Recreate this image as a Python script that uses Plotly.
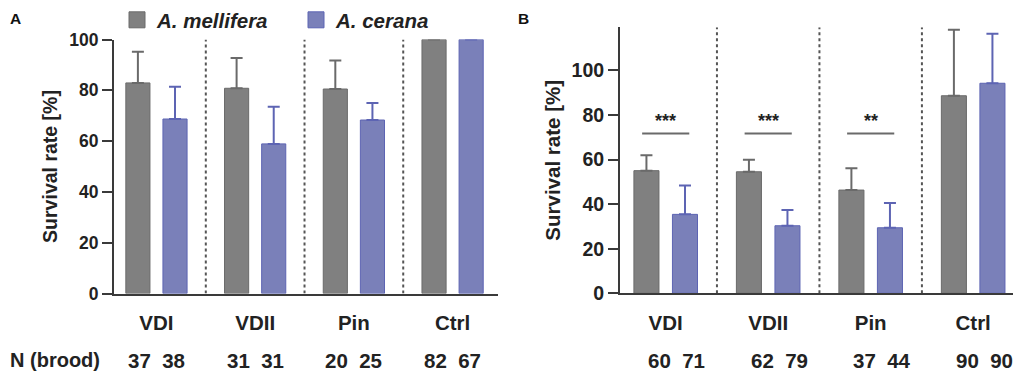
import plotly.graph_objects as go

# ---------------- data ----------------
categories = ["VDI", "VDII", "Pin", "Ctrl"]
species = ["A. mellifera", "A. cerana"]

# Panel A
a_mellifera = [82.9, 80.8, 80.5, 100]
a_mellifera_err = [12.3, 11.9, 11.2, 0]
a_cerana = [68.7, 58.9, 68.3, 100]
a_cerana_err = [12.7, 14.6, 6.7, 0]
a_n_mellifera = [37, 31, 20, 82]
a_n_cerana = [38, 31, 25, 67]

# Panel B
b_mellifera = [55.0, 54.5, 46.3, 88.6]
b_mellifera_err = [6.9, 5.4, 9.8, 29.6]
b_cerana = [35.4, 30.3, 29.4, 94.2]
b_cerana_err = [12.9, 7.1, 11.1, 22.2]
b_n_mellifera = [60, 62, 37, 90]
b_n_cerana = [71, 79, 44, 90]

sig_groups = ["VDI", "VDII", "Pin"]
sig_labels = ["***", "***", "**"]
sig_level = 71.7

# ---------------- style ----------------
FONT = "Liberation Sans, Arial, Helvetica, sans-serif"
GRAY_FILL = "#808080"
GRAY_EDGE = "#6a6a6a"
BLUE_FILL = "#7a80b9"
BLUE_EDGE = "#5d64b3"
AXIS_COL = "#3a3a3a"
TXT = "#222222"
W, H = 1021, 373
OFF = 8  # page body margin offset


def px_x(p):
    return (p - OFF) / W


def px_y(p):
    return 1 - (p - OFF) / H


fig = go.Figure()

panels = [
    dict(xa="x", ya="y", mel=a_mellifera, mel_e=a_mellifera_err,
         cer=a_cerana, cer_e=a_cerana_err),
    dict(xa="x2", ya="y2", mel=b_mellifera, mel_e=b_mellifera_err,
         cer=b_cerana, cer_e=b_cerana_err),
]

for p in panels:
    for name, vals, errs, fill, edge in [
        (species[0], p["mel"], p["mel_e"], GRAY_FILL, GRAY_EDGE),
        (species[1], p["cer"], p["cer_e"], BLUE_FILL, BLUE_EDGE),
    ]:
        fig.add_trace(go.Bar(
            x=categories, y=vals, name=name,
            xaxis=p["xa"], yaxis=p["ya"],
            marker=dict(color=fill, line=dict(color=edge, width=1)),
            error_y=dict(type="data", array=errs, arrayminus=[0] * len(errs),
                         symmetric=False, color=edge, thickness=2, width=6,
                         visible=True),
            showlegend=False, legendgroup=name,
        ))

# legend entries (square markers)
for name, fill, edge in [(species[0], GRAY_FILL, GRAY_EDGE),
                         (species[1], BLUE_FILL, BLUE_EDGE)]:
    fig.add_trace(go.Scatter(
        x=[None], y=[None], mode="markers", name=name, legendgroup=name,
        marker=dict(symbol="square", size=16, color=fill,
                    line=dict(color=edge, width=1)),
        showlegend=True,
    ))

fig.update_layout(
    width=W, height=H,
    margin=dict(l=0, r=0, t=0, b=0, autoexpand=False),
    paper_bgcolor="white", plot_bgcolor="white",
    barmode="group", bargap=0.248, bargroupgap=0.35,
    font=dict(family=FONT, color=TXT),
    legend=dict(orientation="h", x=px_x(117), y=px_y(0), xanchor="left",
                yanchor="top", font=dict(size=20.5, family=FONT, weight="bold",
                                         style="italic", color=TXT),
                itemwidth=30, entrywidth=134, tracegroupgap=0,
                bgcolor="rgba(0,0,0,0)"),
)

axis_common = dict(showline=True, linecolor=AXIS_COL, linewidth=2,
                   showgrid=False, zeroline=False, automargin=False)

fig.update_layout(
    xaxis=dict(domain=[px_x(114), px_x(498)], anchor="y",
               range=[-0.43, 3.46], ticks="", ticklabelstandoff=10,
               tickfont=dict(size=20.5, family=FONT, weight="bold", color=TXT),
               **axis_common),
    yaxis=dict(domain=[px_y(293.5), px_y(39.5)], anchor="x",
               range=[0, 100], tickvals=[0, 20, 40, 60, 80, 100],
               ticks="outside", ticklen=10, tickwidth=2, tickcolor=AXIS_COL,
               tickfont=dict(size=17.5, family=FONT, weight="bold", color=TXT),
               title=dict(text="Survival rate [%]", standoff=6,
                          font=dict(size=19.5, family=FONT, weight="bold", color=TXT)),
               **axis_common),
    xaxis2=dict(domain=[px_x(620), px_x(1020)], anchor="y2",
                range=[-0.446, 3.457], ticks="", ticklabelstandoff=10,
                tickfont=dict(size=20.5, family=FONT, weight="bold", color=TXT),
                **axis_common),
    yaxis2=dict(domain=[px_y(293.3), px_y(27.3)], anchor="x2",
                range=[0, 119.3], tickvals=[0, 20, 40, 60, 80, 100],
                ticks="outside", ticklen=10, tickwidth=2, tickcolor=AXIS_COL,
                tickfont=dict(size=19.5, family=FONT, weight="bold", color=TXT),
                title=dict(text="Survival rate [%]", standoff=5,
                           font=dict(size=20.5, family=FONT, weight="bold", color=TXT)),
                **axis_common),
)

# dotted separators
for xa, ya, top in [("x", "y", 100), ("x2", "y2", 119.3)]:
    for i in range(len(categories) - 1):
        fig.add_shape(type="line", xref=xa, yref=ya, x0=i + 0.5, x1=i + 0.5,
                      y0=0, y1=top, line=dict(color="#555555", width=2, dash="dot"))

# significance bars (panel B)
for g, lab in zip(sig_groups, sig_labels):
    i = categories.index(g)
    fig.add_shape(type="line", xref="x2", yref="y2", x0=i - 0.23, x1=i + 0.23,
                  y0=sig_level, y1=sig_level, line=dict(color="#6a6a6a", width=2))
    fig.add_annotation(x=i, y=sig_level, xref="x2", yref="y2", text=lab,
                       showarrow=False, yanchor="bottom", yshift=0,
                       font=dict(size=18, family=FONT, weight="bold", color=TXT))

# N (brood) row
NY = px_y(360)
fig.add_annotation(x=px_x(OFF), y=NY, xref="paper", yref="paper", text="N (brood)",
                   xanchor="left", yanchor="middle", showarrow=False,
                   font=dict(size=20, family=FONT, weight="bold", color=TXT))
for i in range(len(categories)):
    fig.add_annotation(x=i, y=NY, xref="x", yref="paper",
                       text=f"{a_n_mellifera[i]}&nbsp;&nbsp;{a_n_cerana[i]}",
                       showarrow=False, yanchor="middle",
                       font=dict(size=20.5, family=FONT, weight="bold", color=TXT))
    fig.add_annotation(x=i + 0.11, y=NY, xref="x2", yref="paper",
                       text=f"{b_n_mellifera[i]}&nbsp;&nbsp;{b_n_cerana[i]}",
                       showarrow=False, yanchor="middle",
                       font=dict(size=20.5, family=FONT, weight="bold", color=TXT))

# panel letters
for lx, letter in [(OFF, "A"), (516, "B")]:
    fig.add_annotation(x=px_x(lx), y=px_y(OFF), xref="paper", yref="paper",
                       text=letter, xanchor="left", yanchor="top", showarrow=False,
                       font=dict(size=15.5, family=FONT, weight="bold", color="#111"))

fig.write_html("out.html")
